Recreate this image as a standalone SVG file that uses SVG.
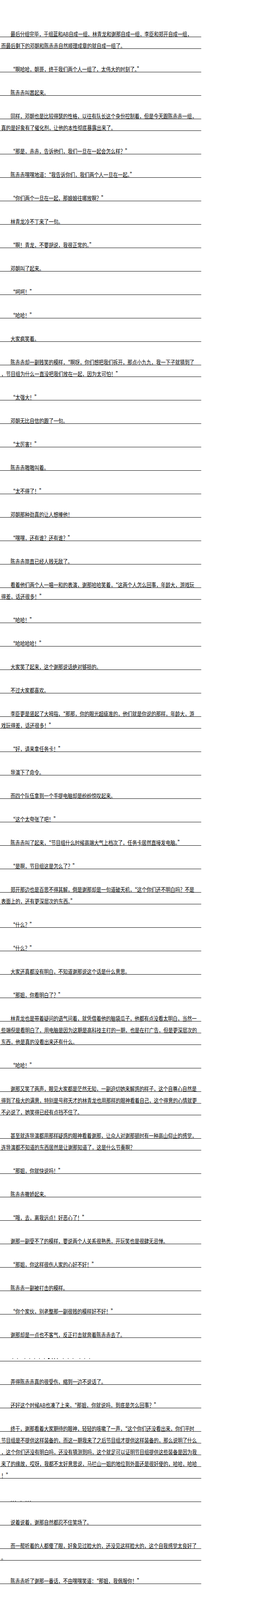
<svg xmlns="http://www.w3.org/2000/svg" width="700" height="5120" viewBox="0 0 700 5120">
<style>
.t{font-family:"Noto Sans CJK SC","Noto Sans",sans-serif;font-size:12.25px;fill:#000}
.r{fill:#000}
.f{font-family:"Liberation Serif","Noto Sans CJK SC",serif;font-size:15px;fill:#111133}
</style>
<rect width="700" height="5120" fill="#fff"/>
<g id="p1"><text class="t" transform="translate(27 93) scale(1 1.2)" textLength="465" lengthAdjust="spacing">最后分组完毕，于组蓝和AB自成一组，林青龙和谢那自成一组，李臣和郑开自成一组，</text><rect class="r" x="0" y="94" width="516" height="1"/>
<text class="t" transform="translate(3 123) scale(1 1.2)">而最后剩下的邓朝和陈赤赤自然顺理成章的就自成一组了。</text><rect class="r" x="0" y="124" width="516" height="1"/></g>
<g id="p2"><text class="t" transform="translate(27 183) scale(1 1.2)">“啊哈哈，朝哥，终于我们两个人一组了，太伟大的时刻了。”</text><rect class="r" x="0" y="184" width="516" height="1"/></g>
<g id="p3"><text class="t" transform="translate(27 243) scale(1 1.2)">陈赤赤叫嚣起来。</text><rect class="r" x="0" y="244" width="516" height="1"/></g>
<g id="p4"><text class="t" transform="translate(27 303) scale(1 1.2)">同样，邓朝也是比较得瑟的性格，以往有队长这个身份控制着，但是今天跟陈赤赤一组，</text><rect class="r" x="0" y="304" width="516" height="1"/>
<text class="t" transform="translate(3 333) scale(1 1.2)">真的是好象有了催化剂，让他的本性彻底暴露出来了。</text><rect class="r" x="0" y="334" width="516" height="1"/></g>
<g id="p5"><text class="t" transform="translate(27 393) scale(1 1.2)">“那是，赤赤，告诉他们，我们一旦在一起会怎么样？”</text><rect class="r" x="0" y="394" width="516" height="1"/></g>
<g id="p6"><text class="t" transform="translate(27 453) scale(1 1.2)">陈赤赤嘿嘿地道：“我告诉你们，我们两个人一旦在一起。”</text><rect class="r" x="0" y="454" width="516" height="1"/></g>
<g id="p7"><text class="t" transform="translate(27 513) scale(1 1.2)">“你们两个一旦在一起，那娘娘往哪放啊？”</text><rect class="r" x="0" y="514" width="516" height="1"/></g>
<g id="p8"><text class="t" transform="translate(27 573) scale(1 1.2)">林青龙冷不丁来了一句。</text><rect class="r" x="0" y="574" width="516" height="1"/></g>
<g id="p9"><text class="t" transform="translate(27 633) scale(1 1.2)">“啊！青龙，不要胡说，我很正常的。”</text><rect class="r" x="0" y="634" width="516" height="1"/></g>
<g id="p10"><text class="t" transform="translate(27 693) scale(1 1.2)">邓朝叫了起来。</text><rect class="r" x="0" y="694" width="516" height="1"/></g>
<g id="p11"><text class="t" transform="translate(27 753) scale(1 1.2)">“呵呵！”</text><rect class="r" x="0" y="754" width="516" height="1"/></g>
<g id="p12"><text class="t" transform="translate(27 813) scale(1 1.2)">“哈哈！”</text><rect class="r" x="0" y="814" width="516" height="1"/></g>
<g id="p13"><text class="t" transform="translate(27 873) scale(1 1.2)">大家疯笑着。</text><rect class="r" x="0" y="874" width="516" height="1"/></g>
<g id="p14"><text class="t" transform="translate(27 933) scale(1 1.2)">陈赤赤却一副贱笑的模样，“啊呀，你们想把我们拆开，那点小九九，我一下子就猜到了</text><rect class="r" x="0" y="934" width="516" height="1"/>
<text class="t" transform="translate(3 963) scale(1 1.2)">，节目组为什么一直没把我们放在一起，因为太可怕！”</text><rect class="r" x="0" y="964" width="516" height="1"/></g>
<g id="p15"><text class="t" transform="translate(27 1023) scale(1 1.2)">“太强大！”</text><rect class="r" x="0" y="1024" width="516" height="1"/></g>
<g id="p16"><text class="t" transform="translate(27 1083) scale(1 1.2)">邓朝无比自信的跟了一句。</text><rect class="r" x="0" y="1084" width="516" height="1"/></g>
<g id="p17"><text class="t" transform="translate(27 1143) scale(1 1.2)">“太厉害！”</text><rect class="r" x="0" y="1144" width="516" height="1"/></g>
<g id="p18"><text class="t" transform="translate(27 1203) scale(1 1.2)">陈赤赤嗷嗷叫着。</text><rect class="r" x="0" y="1204" width="516" height="1"/></g>
<g id="p19"><text class="t" transform="translate(27 1263) scale(1 1.2)">“太不得了！”</text><rect class="r" x="0" y="1264" width="516" height="1"/></g>
<g id="p20"><text class="t" transform="translate(27 1323) scale(1 1.2)">邓朝那种劲真的让人想揍他！</text><rect class="r" x="0" y="1324" width="516" height="1"/></g>
<g id="p21"><text class="t" transform="translate(27 1383) scale(1 1.2)">“嘿嘿，还有谁？还有谁？”</text><rect class="r" x="0" y="1384" width="516" height="1"/></g>
<g id="p22"><text class="t" transform="translate(27 1443) scale(1 1.2)">陈赤赤简直已经人贱无敌了。</text><rect class="r" x="0" y="1444" width="516" height="1"/></g>
<g id="p23"><text class="t" transform="translate(27 1503) scale(1 1.2)">看着他们两个人一唱一和的表演，谢那哈哈笑着，“这两个人怎么回事，年龄大，游戏玩</text><rect class="r" x="0" y="1504" width="516" height="1"/>
<text class="t" transform="translate(3 1533) scale(1 1.2)">得差，话还很多！”</text><rect class="r" x="0" y="1534" width="516" height="1"/></g>
<g id="p24"><text class="t" transform="translate(27 1593) scale(1 1.2)">“哈哈！”</text><rect class="r" x="0" y="1594" width="516" height="1"/></g>
<g id="p25"><text class="t" transform="translate(27 1653) scale(1 1.2)">“哈哈哈哈！”</text><rect class="r" x="0" y="1654" width="516" height="1"/></g>
<g id="p26"><text class="t" transform="translate(27 1713) scale(1 1.2)">大家笑了起来，这个谢那说话绝对够损的。</text><rect class="r" x="0" y="1714" width="516" height="1"/></g>
<g id="p27"><text class="t" transform="translate(27 1773) scale(1 1.2)">不过大家都喜欢。</text><rect class="r" x="0" y="1774" width="516" height="1"/></g>
<g id="p28"><text class="t" transform="translate(27 1833) scale(1 1.2)">李臣更是竖起了大拇指，“那那，你的眼光超级准的，他们就是你说的那样，年龄大，游</text><rect class="r" x="0" y="1834" width="516" height="1"/>
<text class="t" transform="translate(3 1863) scale(1 1.2)">戏玩得差，话还很多！”</text><rect class="r" x="0" y="1864" width="516" height="1"/></g>
<g id="p29"><text class="t" transform="translate(27 1923) scale(1 1.2)">“好，请来拿任务卡！”</text><rect class="r" x="0" y="1924" width="516" height="1"/></g>
<g id="p30"><text class="t" transform="translate(27 1983) scale(1 1.2)">导演下了命令。</text><rect class="r" x="0" y="1984" width="516" height="1"/></g>
<g id="p31"><text class="t" transform="translate(27 2043) scale(1 1.2)">而四个队伍拿到一个手提电脑却是纷纷惊叹起来。</text><rect class="r" x="0" y="2044" width="516" height="1"/></g>
<g id="p32"><text class="t" transform="translate(27 2103) scale(1 1.2)">“这个太夸张了吧！”</text><rect class="r" x="0" y="2104" width="516" height="1"/></g>
<g id="p33"><text class="t" transform="translate(27 2163) scale(1 1.2)">陈赤赤叫了起来，“节目组什么时候高端大气上档次了，任务卡居然直接发电脑。”</text><rect class="r" x="0" y="2164" width="516" height="1"/></g>
<g id="p34"><text class="t" transform="translate(27 2223) scale(1 1.2)">“是啊，节目组这是怎么了？”</text><rect class="r" x="0" y="2224" width="516" height="1"/></g>
<g id="p35"><text class="t" transform="translate(27 2283) scale(1 1.2)">郑开那边也是百思不得其解，倒是谢那却是一句道破天机，“这个你们还不明白吗？不是</text><rect class="r" x="0" y="2284" width="516" height="1"/>
<text class="t" transform="translate(3 2313) scale(1 1.2)">表面上的，还有更深层次的东西。”</text><rect class="r" x="0" y="2314" width="516" height="1"/></g>
<g id="p36"><text class="t" transform="translate(27 2373) scale(1 1.2)">“什么？”</text><rect class="r" x="0" y="2374" width="516" height="1"/></g>
<g id="p37"><text class="t" transform="translate(27 2433) scale(1 1.2)">“什么？”</text><rect class="r" x="0" y="2434" width="516" height="1"/></g>
<g id="p38"><text class="t" transform="translate(27 2493) scale(1 1.2)">大家还真都没有明白，不知道谢那说这个话是什么意思。</text><rect class="r" x="0" y="2494" width="516" height="1"/></g>
<g id="p39"><text class="t" transform="translate(27 2553) scale(1 1.2)">“那姐，你看明白了？”</text><rect class="r" x="0" y="2554" width="516" height="1"/></g>
<g id="p40"><text class="t" transform="translate(27 2613) scale(1 1.2)">林青龙也是带着疑问的语气问着，就凭借着他的脑袋瓜子，他都有点没看太明白，当然一</text><rect class="r" x="0" y="2614" width="516" height="1"/>
<text class="t" transform="translate(3 2643) scale(1 1.2)">些端倪是看明白了，用电脑是因为这期是高科技主打的一期，也是在打广告，但是更深层次的</text><rect class="r" x="0" y="2644" width="516" height="1"/>
<text class="t" transform="translate(3 2673) scale(1 1.2)">东西，他是真的没看出来还有什么。</text><rect class="r" x="0" y="2674" width="516" height="1"/></g>
<g id="p41"><text class="t" transform="translate(27 2733) scale(1 1.2)">“哈哈！”</text><rect class="r" x="0" y="2734" width="516" height="1"/></g>
<g id="p42"><text class="t" transform="translate(27 2793) scale(1 1.2)">谢那又笑了两声，眼见大家都是茫然无知，一副迫切她来解惑的样子，这个自尊心自然是</text><rect class="r" x="0" y="2794" width="516" height="1"/>
<text class="t" transform="translate(3 2823) scale(1 1.2)">得到了极大的满意，特别是号称天才的林青龙也用那样的眼神看着自己，这个得意的心情就更</text><rect class="r" x="0" y="2824" width="516" height="1"/>
<text class="t" transform="translate(3 2853) scale(1 1.2)">不必说了，她笑得已经有点挡不住了。</text><rect class="r" x="0" y="2854" width="516" height="1"/></g>
<g id="p43"><text class="t" transform="translate(27 2913) scale(1 1.2)">甚至就连导演都用那样疑惑的眼神看着谢那，让众人对谢那顿时有一种高山仰止的感觉，</text><rect class="r" x="0" y="2914" width="516" height="1"/>
<text class="t" transform="translate(3 2943) scale(1 1.2)">连导演都不知道的东西居然是让谢那知道了，这是什么节奏啊？</text><rect class="r" x="0" y="2944" width="516" height="1"/></g>
<g id="p44"><text class="t" transform="translate(27 3003) scale(1 1.2)">“那姐，你就快说吗！”</text><rect class="r" x="0" y="3004" width="516" height="1"/></g>
<g id="p45"><text class="t" transform="translate(27 3063) scale(1 1.2)">陈赤赤撒娇起来。</text><rect class="r" x="0" y="3064" width="516" height="1"/></g>
<g id="p46"><text class="t" transform="translate(27 3123) scale(1 1.2)">“哦，去，离我远点！好恶心了！”</text><rect class="r" x="0" y="3124" width="516" height="1"/></g>
<g id="p47"><text class="t" transform="translate(27 3183) scale(1 1.2)">谢那一副受不了的模样，要说两个人关系很熟悉，开玩笑也是很肆无忌惮。</text><rect class="r" x="0" y="3184" width="516" height="1"/></g>
<g id="p48"><text class="t" transform="translate(27 3243) scale(1 1.2)">“那姐，你这样很伤人家的心好不好！”</text><rect class="r" x="0" y="3244" width="516" height="1"/></g>
<g id="p49"><text class="t" transform="translate(27 3303) scale(1 1.2)">陈赤赤一副被打击的模样。</text><rect class="r" x="0" y="3304" width="516" height="1"/></g>
<g id="p50"><text class="t" transform="translate(27 3363) scale(1 1.2)">“你个家伙，别老整那一副很贱的模样好不好！”</text><rect class="r" x="0" y="3364" width="516" height="1"/></g>
<g id="p51"><text class="t" transform="translate(27 3423) scale(1 1.2)">谢那却是一点也不客气，反正打击就奔着陈赤赤去了。</text><rect class="r" x="0" y="3424" width="516" height="1"/></g>
<g id="dots1"><rect class="r" x="32" y="3477.5" width="1.5" height="1.5"/><rect class="r" x="44" y="3477.5" width="1.5" height="1.5"/><rect class="r" x="63" y="3477.5" width="1.5" height="1.5"/><rect class="r" x="75.5" y="3477.5" width="1.5" height="1.5"/><rect class="r" x="88" y="3477.5" width="1.5" height="1.5"/><rect class="r" x="100.5" y="3477.5" width="1.5" height="1.5"/><rect class="r" x="113" y="3477.5" width="1.5" height="1.5"/><rect class="r" x="123" y="3477" width="4" height="2"/><rect class="r" x="133" y="3477.5" width="2" height="1.5"/><rect class="r" x="139" y="3477.5" width="2" height="1.5"/><rect class="r" x="146" y="3477.5" width="2" height="1.5"/><rect class="r" x="161.5" y="3477.5" width="1.5" height="1.5"/><rect class="r" x="174" y="3477.5" width="1.5" height="1.5"/><rect class="r" x="186.5" y="3477.5" width="1.5" height="1.5"/><rect class="r" x="204" y="3477.5" width="1.5" height="1.5"/><rect class="r" x="216.5" y="3477.5" width="1.5" height="1.5"/><rect class="r" x="229" y="3477.5" width="1.5" height="1.5"/><rect class="r" x="0" y="3484" width="516" height="1"/></g>
<g id="p52"><text class="t" transform="translate(27 3543) scale(1 1.2)">弄得陈赤赤真的很受伤，缩到一边不说话了。</text><rect class="r" x="0" y="3544" width="516" height="1"/></g>
<g id="p53"><text class="t" transform="translate(27 3603) scale(1 1.2)" textLength="380" lengthAdjust="spacing">还好这个时候AB也凑了上来，“那姐，你就说吗，到底是怎么回事？”</text><rect class="r" x="0" y="3604" width="516" height="1"/></g>
<g id="p54"><text class="t" transform="translate(27 3663) scale(1 1.2)">终于，谢那看着大家期待的眼神，轻轻的咳嗽了一声，“这个你们还没看出来，你们平时</text><rect class="r" x="0" y="3664" width="516" height="1"/>
<text class="t" transform="translate(3 3693) scale(1 1.2)">节目组是不提供这样装备的，而这一期我来了之后节目组才提供这样装备的，那么说明了什么</text><rect class="r" x="0" y="3694" width="516" height="1"/>
<text class="t" transform="translate(3 3723) scale(1 1.2)">，这个你们还没有明白吗，还没有猜测到吗，这个就足可以证明节目组提供这些装备是因为我</text><rect class="r" x="0" y="3724" width="516" height="1"/>
<text class="t" transform="translate(3 3753) scale(1 1.2)">来了的缘故，哎呀，我都不太好意思说，马拦山一姐的地位到外面还是很好使的，哈哈，哈哈</text><rect class="r" x="0" y="3754" width="516" height="1"/>
<text class="t" transform="translate(3 3783) scale(1 1.2)">！”</text><rect class="r" x="0" y="3784" width="516" height="1"/></g>
<g id="dots2"><rect class="r" x="28" y="3842" width="1.5" height="1.5"/><rect class="r" x="33" y="3842" width="1.5" height="1.5"/><rect class="r" x="39" y="3842" width="1.5" height="1.5"/><rect class="r" x="53" y="3842" width="1.5" height="1.5"/><rect class="r" x="66" y="3842" width="1.5" height="1.5"/><rect class="r" x="71.5" y="3842" width="1.5" height="1.5"/><rect class="r" x="77" y="3842" width="1.5" height="1.5"/><rect class="r" x="0" y="3844" width="516" height="1"/></g>
<g id="p55"><text class="t" transform="translate(27 3903) scale(1 1.2)">说着说着，谢那自然都忍不住笑场了。</text><rect class="r" x="0" y="3904" width="516" height="1"/></g>
<g id="p56"><text class="t" transform="translate(27 3963) scale(1 1.2)">而一帮听着的人都傻了眼，好象见过脸大的，还没见这样脸大的，这个自我感觉太良好了</text><rect class="r" x="0" y="3964" width="516" height="1"/>
<text class="t" transform="translate(3 3993) scale(1 1.2)">。</text><rect class="r" x="0" y="3994" width="516" height="1"/></g>
<g id="p57"><text class="t" transform="translate(27 4053) scale(1 1.2)">陈赤赤听了谢那一番话，不由嘿嘿笑道：“那姐，我佩服你！”</text><rect class="r" x="0" y="4054" width="516" height="1"/></g>
<g id="p58"><text class="t" transform="translate(27 4113) scale(1 1.2)">“陈赤赤，你什么意思？”</text><rect class="r" x="0" y="4114" width="516" height="1"/></g>
<g id="p59"><text class="t" transform="translate(27 4173) scale(1 1.2)">谢那当然听出了陈赤赤话里的言不由衷。</text><rect class="r" x="0" y="4174" width="516" height="1"/></g>
<g id="p60"><text class="t" transform="translate(27 4233) scale(1 1.2)">林青龙已经哈哈解释着，“那姐，我听出来了，陈赤赤的意思很明显吗，他佩服你，因为</text><rect class="r" x="0" y="4234" width="516" height="1"/>
<text class="t" transform="translate(3 4263) scale(1 1.2)">他长着一张那么大的脸，都不敢说出那样的话，你却敢说，佩服，佩服啊！”</text><rect class="r" x="0" y="4264" width="516" height="1"/></g>
<g id="p61"><text class="t" transform="translate(27 4323) scale(1 1.2)">“哈哈！”</text><rect class="r" x="0" y="4324" width="516" height="1"/></g>
<g id="p62"><text class="t" transform="translate(27 4383) scale(1 1.2)">“哈哈哈哈！”</text><rect class="r" x="0" y="4384" width="516" height="1"/></g>
<g id="p63"><text class="t" transform="translate(27 4443) scale(1 1.2)">谢那的脸色顿时就黑下来了，“青龙，咱们是一个队的，你居然这样说我！”</text><rect class="r" x="0" y="4444" width="516" height="1"/></g>
<g id="p64"><text class="t" transform="translate(27 4503) scale(1 1.2)">“啊，那姐，不好意思，不好意思，我说错了，我不说了，都忘记咱们是一个队的了。”</text><rect class="r" x="0" y="4504" width="516" height="1"/>
<rect class="r" x="0" y="4534" width="516" height="1"/></g>
<g id="p65"><text class="t" transform="translate(27 4593) scale(1 1.2)">林青龙连忙意识到自己的错误，谢那跟自己是一个队的，他攻击错人了。</text><rect class="r" x="0" y="4594" width="516" height="1"/></g>
<g id="p66"><text class="t" transform="translate(27 4653) scale(1 1.2)">不过这个时候好象已经晚了，大家已经发现这个梗了，自然要玩起来的。</text><rect class="r" x="0" y="4654" width="516" height="1"/></g>
<g id="p67"><text class="t" transform="translate(27 4713) scale(1 1.2)">邓朝更是嘿嘿笑着，把话最后精辟总结了一下，“你们听听，刚才青龙的话是不是这个意</text><rect class="r" x="0" y="4714" width="516" height="1"/>
<text class="t" transform="translate(3 4743) scale(1 1.2)">思，陈赤赤好大脸，那姐脸好大啊！”</text><rect class="r" x="0" y="4744" width="516" height="1"/></g>
<g id="p68"><text class="t" transform="translate(3 4803) scale(1 1.2)" textLength="299" lengthAdjust="spacing">飞卢提醒您：读书三件事 - 收藏、推荐、分享！(fbdu)</text><rect class="r" x="0" y="4804" width="516" height="1"/></g>
<g id="p69"><text class="t" transform="translate(3 4863) scale(1 1.2)" textLength="373" lengthAdjust="spacing">支持飞卢小说网(http://b.faloo.com)原创作品，尽享阅读的喜悦！1</text><rect class="r" x="0" y="4864" width="516" height="1"/>
<text class="t" transform="translate(3 4893) scale(1 1.2)" textLength="67" lengthAdjust="spacing">60125153139</text><rect class="r" x="0" y="4894" width="516" height="1"/></g>
<g id="footer">
<text class="f" x="25" y="4970.5">读书族小说网，读者书友的大家族，欢迎加入！</text>
<text class="f" x="25" y="5010.5">电脑访问www.dushuzu.com 手机访问m.dushuzu.com</text>
<text class="f" x="25" y="5050.5">交流群513781872</text>
</g>
</svg>
